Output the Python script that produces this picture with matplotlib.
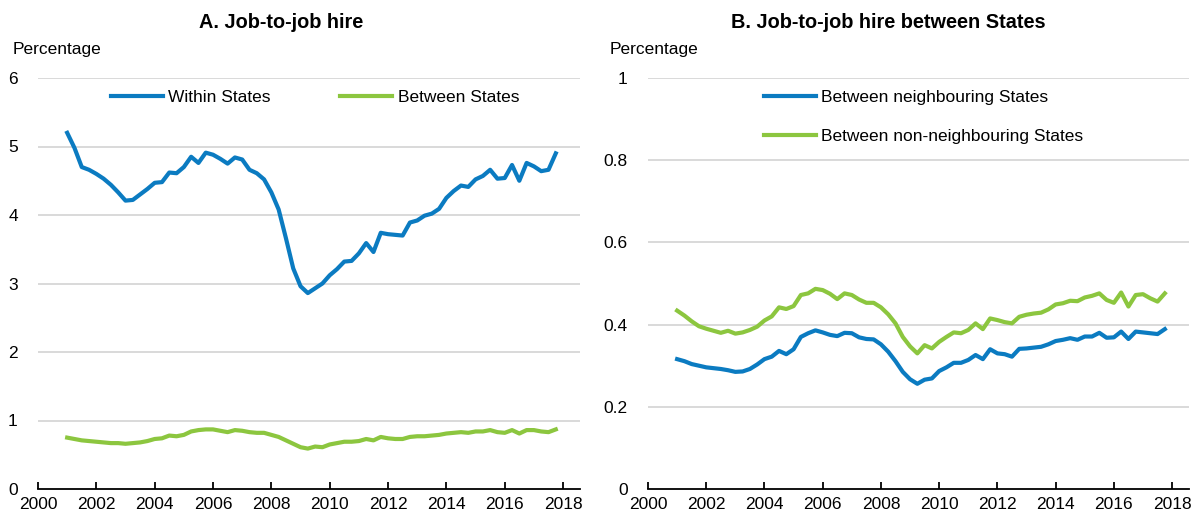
import matplotlib.pyplot as plt
import numpy as np

# quarterly observations, 2001Q1 .. 2017Q4
years = np.arange(2001, 2018)
quarters = np.array([y + q / 4 for y in years for q in range(4)])

within_states = [
    5.20, 4.98, 4.70, 4.66,
    4.60, 4.53, 4.44, 4.33,
    4.21, 4.22, 4.30, 4.38,
    4.47, 4.48, 4.62, 4.61,
    4.70, 4.85, 4.76, 4.91,
    4.88, 4.82, 4.75, 4.84,
    4.81, 4.66, 4.61, 4.52,
    4.33, 4.08, 3.66, 3.22,
    2.96, 2.86, 2.93, 3.00,
    3.12, 3.21, 3.32, 3.33,
    3.44, 3.59, 3.46, 3.74,
    3.72, 3.71, 3.70, 3.89,
    3.92, 3.99, 4.02, 4.09,
    4.25, 4.35, 4.43, 4.41,
    4.52, 4.57, 4.66, 4.53,
    4.54, 4.73, 4.50, 4.76,
    4.71, 4.64, 4.66, 4.90,
]

between_states = [
    0.75, 0.73, 0.71, 0.70,
    0.69, 0.68, 0.67, 0.67,
    0.66, 0.67, 0.68, 0.70,
    0.73, 0.74, 0.78, 0.77,
    0.79, 0.84, 0.86, 0.87,
    0.87, 0.85, 0.83, 0.86,
    0.85, 0.83, 0.82, 0.82,
    0.79, 0.76, 0.71, 0.66,
    0.61, 0.59, 0.62, 0.61,
    0.65, 0.67, 0.69, 0.69,
    0.70, 0.73, 0.71, 0.76,
    0.74, 0.73, 0.73, 0.76,
    0.77, 0.77, 0.78, 0.79,
    0.81, 0.82, 0.83, 0.82,
    0.84, 0.84, 0.86, 0.83,
    0.82, 0.86, 0.81, 0.86,
    0.86, 0.84, 0.83, 0.87,
]

neighbouring = [
    0.316, 0.311, 0.304, 0.300,
    0.296, 0.294, 0.292, 0.289,
    0.285, 0.286, 0.292, 0.303,
    0.316, 0.322, 0.336, 0.328,
    0.340, 0.370, 0.379, 0.386,
    0.381, 0.375, 0.372, 0.380,
    0.379, 0.369, 0.365, 0.364,
    0.352, 0.334, 0.311, 0.285,
    0.267, 0.256, 0.266, 0.269,
    0.287, 0.296, 0.307, 0.307,
    0.314, 0.326, 0.316, 0.340,
    0.330, 0.328, 0.322, 0.341,
    0.342, 0.344, 0.346, 0.352,
    0.360, 0.363, 0.367, 0.363,
    0.371, 0.371, 0.380, 0.368,
    0.369, 0.383, 0.365, 0.383,
    0.381, 0.379, 0.377, 0.389,
]

non_neighbouring = [
    0.434, 0.422, 0.408, 0.396,
    0.390, 0.385, 0.380, 0.385,
    0.378, 0.381, 0.387, 0.395,
    0.410, 0.420, 0.442, 0.438,
    0.445, 0.472, 0.476, 0.487,
    0.484, 0.475, 0.462, 0.476,
    0.472, 0.461, 0.453, 0.453,
    0.442, 0.425, 0.403, 0.370,
    0.347, 0.330, 0.350, 0.342,
    0.358, 0.370, 0.381, 0.379,
    0.387, 0.403, 0.389, 0.415,
    0.411, 0.406, 0.403, 0.419,
    0.424, 0.427, 0.429, 0.437,
    0.449, 0.452, 0.458, 0.457,
    0.466, 0.470, 0.476, 0.460,
    0.453, 0.478, 0.444, 0.472,
    0.474, 0.464, 0.456, 0.476,
]

x_ticks = np.arange(2000, 2019, 2)
y_ticks_a = [0, 1, 2, 3, 4, 5, 6]
y_ticks_b = [0, 0.2, 0.4, 0.6, 0.8, 1]

BLUE = '#0B7BC1'
GREEN = '#8CC63F'
GRID = '#D9D9D9'
FS = 12.5

plt.rcParams['font.family'] = ['Liberation Sans', 'DejaVu Sans']
plt.rcParams['font.size'] = FS

W, H = 1199, 517
fig = plt.figure(figsize=(W / 100, H / 100), dpi=100)


def px_axes(left, right, top, bottom):
    return fig.add_axes([left / W, (H - bottom) / H, (right - left) / W, (bottom - top) / H])


def style(ax, yticks):
    ax.set_xlim(2000, 2018.58)
    ax.set_ylim(yticks[0], yticks[-1])
    ax.set_xticks(x_ticks)
    ax.set_xticklabels([str(t) for t in x_ticks])
    ax.set_yticks(yticks)
    ax.set_yticklabels([f'{t:g}' for t in yticks])
    for side in ('left', 'right', 'top'):
        ax.spines[side].set_visible(False)
    ax.spines['bottom'].set_linewidth(1.3)
    ax.tick_params(axis='x', direction='in', length=5, width=1.3, pad=6, labelsize=FS)
    ax.tick_params(axis='y', left=False, pad=11, labelsize=FS)
    ax.grid(axis='y', color=GRID, linewidth=1.4)
    ax.set_axisbelow(True)
    # bottom gridline sits under the spine
    ax.yaxis.get_gridlines()[0].set_visible(False)


ax_a = px_axes(38, 580, 78, 489)
ax_b = px_axes(648, 1189, 78, 489)

ax_a.plot(quarters, within_states, color=BLUE, lw=3.0, label='Within States', solid_joinstyle='round')
ax_a.plot(quarters, between_states, color=GREEN, lw=3.0, label='Between States', solid_joinstyle='round')
style(ax_a, y_ticks_a)
ax_a.legend(loc='center left', bbox_to_anchor=((111 - 38) / 542, (489 - 97) / 411),
            ncol=2, frameon=False, borderpad=0, borderaxespad=0,
            handlelength=3.0, handletextpad=0.3, columnspacing=4.0, fontsize=FS)

ax_b.plot(quarters, neighbouring, color=BLUE, lw=3.0, label='Between neighbouring States', solid_joinstyle='round')
ax_b.plot(quarters, non_neighbouring, color=GREEN, lw=3.0, label='Between non-neighbouring States', solid_joinstyle='round')
style(ax_b, y_ticks_b)
ax_b.legend(loc='center left', bbox_to_anchor=((764 - 648) / 541, (489 - 117) / 411),
            ncol=1, frameon=False, borderpad=0, borderaxespad=0,
            handlelength=3.0, handletextpad=0.3, labelspacing=1.36, fontsize=FS)

fig.text(281 / W, 1 - 22 / H, 'A. Job-to-job hire', ha='center', va='center',
         fontsize=14.3, fontweight='bold')
fig.text(888 / W, 1 - 22 / H, 'B. Job-to-job hire between States', ha='center', va='center',
         fontsize=14.3, fontweight='bold')
fig.text(13 / W, 1 - 50 / H, 'Percentage', ha='left', va='center', fontsize=FS)
fig.text(610 / W, 1 - 50 / H, 'Percentage', ha='left', va='center', fontsize=FS)

fig.savefig('out.png', dpi=100)
